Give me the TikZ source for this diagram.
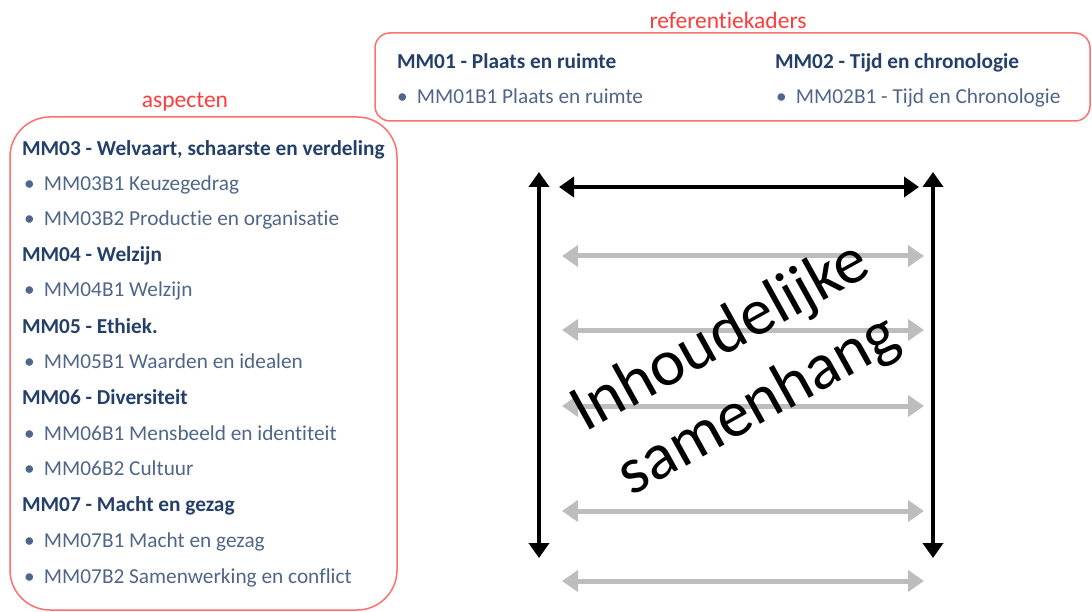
\documentclass[tikz,border=0pt]{standalone}
\usepackage{fontspec}
\setmainfont[Ligatures=NoCommon]{Carlito}
\usepackage{tikz}
\usetikzlibrary{arrows.meta}

\definecolor{kopblauw}{HTML}{24406A}
\definecolor{itemblauw}{HTML}{4F6688}
\definecolor{kaderrood}{HTML}{FF6F6F}
\definecolor{labelrood}{HTML}{FF3B3B}
\definecolor{pijlgrijs}{HTML}{BDBDBD}

\newcommand{\bul}[1]{\makebox[20pt][l]{\textbullet}#1}

\begin{document}
\begin{tikzpicture}[x=1pt, y=-1pt,
                    every node/.style={inner sep=0pt, outer sep=0pt},
                    kop/.style={anchor=base west, font=\fontsize{21.3}{25}\selectfont\bfseries, text=kopblauw},
                    item/.style={anchor=base west, font=\fontsize{21.3}{25}\selectfont, text=itemblauw},
                    titel/.style={font=\fontsize{23.5}{28}\selectfont, text=labelrood},
                    kader/.style={draw=kaderrood, line width=1.5pt},
                    zwart/.style={draw=black, line width=4pt, {Triangle[length=15pt,width=20pt]}-{Triangle[length=15pt,width=20pt]}},
                    grijs/.style={draw=pijlgrijs, line width=5pt, {Triangle[length=16pt,width=21pt]}-{Triangle[length=16pt,width=21pt]}}]

\useasboundingbox (0,0) rectangle (1092,612);

% kaders
\draw[kader, rounded corners=15pt] (375,33) rectangle (1090,121);
\draw[kader, rounded corners=40pt] (10,117) rectangle (397,610);

\node[titel] (ref) at (728,20) {referentiekaders};
\node[titel] (asp) at (185,102) {aspecten};

% referentiekaders
\node[kop] (MM01) at (397,69) {MM01 - Plaats en ruimte};
\node[item] (MM01B1) at (397,104) {\bul{MM01B1 Plaats en ruimte}};
\node[kop] (MM02) at (775,69) {MM02 - Tijd en chronologie};
\node[item] (MM02B1) at (776,104) {\bul{MM02B1 - Tijd en Chronologie}};

% aspecten
\node[kop] (MM03) at (22,156) {MM03 - Welvaart, schaarste en verdeling};
\node[item] (MM03B1) at (24,191) {\bul{MM03B1 Keuzegedrag}};
\node[item] (MM03B2) at (24,226) {\bul{MM03B2 Productie en organisatie}};
\node[kop] (MM04) at (22,262) {MM04 - Welzijn};
\node[item] (MM04B1) at (24,297) {\bul{MM04B1 Welzijn}};
\node[kop] (MM05) at (22,333) {MM05 - Ethiek.};
\node[item] (MM05B1) at (24,368) {\bul{MM05B1 Waarden en idealen}};
\node[kop] (MM06) at (22,404) {MM06 - Diversiteit};
\node[item] (MM06B1) at (24,440) {\bul{MM06B1 Mensbeeld en identiteit}};
\node[item] (MM06B2) at (24,475) {\bul{MM06B2 Cultuur}};
\node[kop] (MM07) at (22,511) {MM07 - Macht en gezag};
\node[item] (MM07B1) at (24,547) {\bul{MM07B1 Macht en gezag}};
\node[item] (MM07B2) at (24,583) {\bul{MM07B2 Samenwerking en conflict}};

% pijlen
\coordinate (LB) at (539,172);
\coordinate (LO) at (539,558);
\coordinate (RB) at (933,172);
\coordinate (RO) at (933,558);
\coordinate (TL) at (559,187);
\coordinate (TR) at (919,187);
\draw[zwart] (LB) -- (LO);
\draw[zwart] (RB) -- (RO);
\draw[zwart] (TL) -- (TR);

\coordinate (G1L) at (562,256); \coordinate (G1R) at (924,256);
\coordinate (G2L) at (562,330); \coordinate (G2R) at (924,330);
\coordinate (G3L) at (562,406); \coordinate (G3R) at (924,406);
\coordinate (G4L) at (562,511); \coordinate (G4R) at (924,511);
\coordinate (G5L) at (562,581); \coordinate (G5R) at (924,581);
\draw[grijs] (G1L) -- (G1R);
\draw[grijs] (G2L) -- (G2R);
\draw[grijs] (G3L) -- (G3R);
\draw[grijs] (G4L) -- (G4R);
\draw[grijs] (G5L) -- (G5R);

\node[rotate=29, align=center, font=\fontsize{66}{78}\selectfont] (samenhang) at (740,372) {Inhoudelijke\\samenhang};
\end{tikzpicture}
\end{document}
